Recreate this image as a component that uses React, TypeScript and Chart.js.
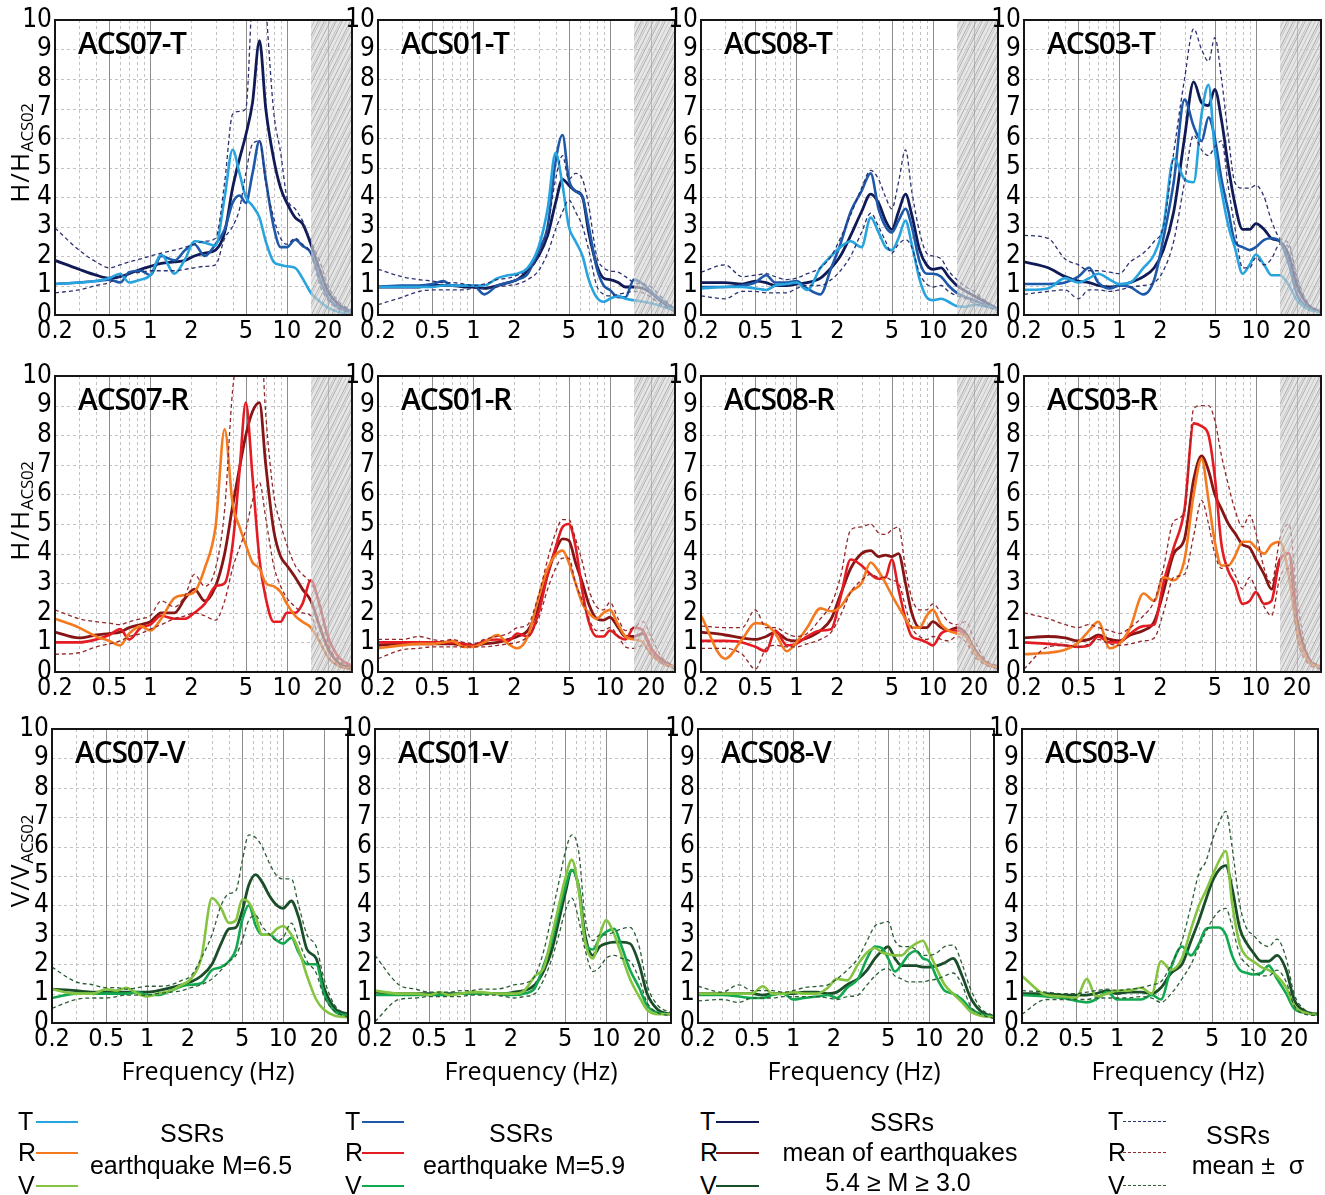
import React, { useEffect, useRef } from "react";
import { Chart, registerables } from "chart.js";

Chart.register(...registerables);

// ---------------- data ----------------
const F = [0.2, 0.3, 0.4, 0.5, 0.6, 0.7, 0.85, 1, 1.2, 1.5, 1.8, 2.1, 2.5, 3, 3.5, 4, 4.5, 5, 5.6, 6.3, 7, 8, 9, 10, 11.5, 13, 15, 17.5, 20, 24, 30];
const X_TICKS = [0.2, 0.5, 1, 2, 5, 10, 20];
const X_MAJOR_GRID = [0.5, 1, 5, 10, 20];
const X_MINOR_GRID = [0.3, 0.4, 0.6, 0.7, 0.8, 0.9, 2, 3, 4, 6, 7, 8, 9];
const Y_GRID = [1, 2, 3, 4, 5, 6, 7, 8, 9];
const HATCH_FROM = 15;

const ACS07_T_M65 = [1.05,1.1,1.15,1.25,1.4,1.1,1.2,1.35,2.05,1.4, 1.9,2.5,2.45,2.35,4.0,5.6,4.8,4.0,3.7,3.3, 2.5,1.8,1.7,1.65,1.6,1.25,0.75,0.45,0.25,0.1, 0.05];
const ACS07_T_M59 = [1.05,1.1,1.15,1.2,1.1,1.45,1.5,1.35,2.0,1.85, 2.2,2.4,2.0,2.4,2.9,3.8,4.05,3.8,4.8,5.9, 4.6,3.0,2.3,2.3,2.55,2.35,2.1,1.2,0.6,0.25, 0.1];
const ACS07_T_MEAN = [1.85,1.55,1.35,1.25,1.3,1.4,1.55,1.65,1.75,1.8, 1.85,2.0,2.1,2.2,2.8,4.3,5.3,6.1,7.2,9.3, 7.0,5.3,4.3,3.8,3.3,3.1,2.4,1.5,0.8,0.35, 0.1];
const ACS07_T_UP = [2.95,2.2,1.8,1.6,1.7,1.8,1.9,2.0,2.1,2.2, 2.3,2.4,2.5,2.6,4.5,6.8,6.9,7.0,11,13, 10.5,6.9,5.5,4.0,3.6,3.2,2.5,1.8,1.0,0.45, 0.15];
const ACS07_T_LO = [0.75,0.85,1.0,1.1,1.3,1.4,1.45,1.5,1.5,1.5, 1.55,1.6,1.65,1.7,2.6,3.0,3.6,4.8,5.8,5.9, 4.5,3.3,2.6,2.4,2.6,2.4,2.1,1.0,0.5,0.2, 0.08];

const ACS01_T_M65 = [0.95,0.95,0.95,0.95,1.0,1.0,1.0,1.0,1.0,1.25, 1.35,1.4,1.6,2.3,3.6,5.5,4.4,3.0,2.5,2.0, 1.2,0.6,0.45,0.55,0.65,0.55,0.5,0.45,0.4,0.3, 0.15];
const ACS01_T_M59 = [0.95,1.0,1.0,1.05,1.15,1.0,1.0,1.0,0.7,1.0, 1.1,1.2,1.4,2.2,3.0,5.2,6.1,4.6,4.2,4.0, 3.0,1.6,1.0,0.85,0.6,0.6,1.2,1.05,0.8,0.5, 0.2];
const ACS01_T_MEAN = [0.95,0.95,0.95,1.0,1.0,1.0,0.95,0.95,0.9,1.0, 1.1,1.2,1.5,2.0,2.7,3.8,4.6,4.4,4.2,4.0, 2.8,1.7,1.25,1.2,1.1,0.95,0.95,0.9,0.75,0.45, 0.15];
const ACS01_T_UP = [1.55,1.3,1.2,1.15,1.1,1.1,1.05,1.0,1.05,1.2, 1.25,1.35,1.5,2.0,3.0,4.6,5.4,4.6,4.8,4.6, 3.7,2.0,1.6,1.5,1.45,1.3,1.1,1.05,0.95,0.6, 0.2];
const ACS01_T_LO = [0.35,0.6,0.8,0.85,0.85,0.85,0.85,0.9,0.9,0.95, 1.0,1.05,1.2,1.5,2.1,2.9,3.5,3.9,3.5,3.0, 2.2,1.0,0.7,0.65,0.7,0.75,0.8,0.75,0.6,0.35, 0.1];

const ACS08_T_M65 = [0.9,0.95,0.95,0.9,0.85,1.0,1.05,1.1,0.85,1.6, 2.0,2.3,2.5,2.3,3.3,2.8,2.3,2.2,2.6,3.2, 2.4,1.2,0.6,0.5,0.55,0.45,0.3,0.28,0.35,0.3, 0.2];
const ACS08_T_M59 = [0.95,0.95,1.0,1.1,1.35,1.1,1.1,1.15,0.9,0.7, 1.6,2.4,3.5,4.2,4.8,3.6,3.0,2.8,3.2,3.6, 3.0,1.8,1.4,1.4,1.3,1.0,0.75,0.6,0.5,0.35, 0.2];
const ACS08_T_MEAN = [1.1,1.1,1.05,1.15,1.1,1.0,1.0,1.05,1.1,1.25, 1.6,2.0,2.7,3.5,4.1,3.8,3.2,2.9,3.5,4.1, 3.4,2.2,1.7,1.55,1.6,1.3,1.0,0.8,0.65,0.45, 0.2];
const ACS08_T_UP = [1.45,1.7,1.3,1.35,1.4,1.3,1.2,1.25,1.4,1.6, 2.0,2.6,3.4,4.3,4.9,4.6,4.0,3.6,4.5,5.6, 4.2,2.8,2.1,2.0,1.9,1.5,1.2,0.95,0.8,0.5, 0.2];
const ACS08_T_LO = [0.65,0.55,0.8,0.8,0.75,0.75,0.75,0.9,1.0,1.0, 1.2,1.5,2.0,2.8,3.45,3.0,2.5,2.1,2.4,2.55, 2.3,1.4,1.05,0.95,1.0,0.8,0.65,0.55,0.4,0.3, 0.15];

const ACS03_T_M65 = [0.85,0.9,1.25,1.1,1.25,1.4,1.2,1.05,1.1,1.6, 2.05,3.0,5.3,4.6,4.5,6.8,7.8,5.6,4.2,3.0, 2.3,1.4,1.7,2.05,1.7,1.35,1.35,1.0,0.5,0.2, 0.1];
const ACS03_T_M59 = [1.05,1.05,1.1,1.3,1.6,1.1,0.9,1.0,0.95,0.7, 1.2,2.6,4.5,7.3,6.4,5.9,6.7,6.0,4.6,3.5, 2.5,2.3,2.2,2.3,2.55,2.6,2.5,1.7,0.7,0.25, 0.1];
const ACS03_T_MEAN = [1.8,1.6,1.3,1.15,1.1,1.0,0.95,1.0,1.1,1.3, 1.6,2.2,3.5,6.0,7.9,7.2,7.1,7.65,6.6,5.0, 3.8,2.9,2.9,3.1,2.9,2.6,2.5,2.0,1.0,0.35, 0.1];
const ACS03_T_UP = [2.7,2.6,1.9,1.7,1.5,1.5,1.45,1.4,1.8,2.1, 2.5,3.0,5.5,8.0,9.7,9.0,8.6,9.4,8.0,6.0, 4.5,4.3,4.3,4.4,4.0,3.2,2.6,2.4,1.3,0.4, 0.1];
const ACS03_T_LO = [0.7,0.8,0.85,0.55,0.85,0.85,0.8,0.85,0.95,1.0, 1.1,1.5,2.5,4.5,6.1,5.6,5.4,5.7,5.9,4.3, 3.0,1.6,1.6,1.95,1.7,1.9,2.4,2.3,1.2,0.35, 0.1];

const ACS07_R_M65 = [1.8,1.5,1.2,1.05,0.9,1.3,1.55,1.4,1.8,2.5, 2.6,2.7,3.5,4.9,8.2,5.7,4.9,4.3,3.7,3.5, 3.0,2.9,2.7,2.3,1.9,1.7,1.5,1.0,0.5,0.2, 0.1];
const ACS07_R_M59 = [1.0,1.0,1.1,1.25,1.45,1.1,1.5,1.6,1.9,1.8, 1.8,2.0,2.3,2.9,3.0,4.3,6.8,9.1,6.6,3.8, 2.5,1.7,1.7,2.0,2.0,2.3,3.1,2.2,1.2,0.5, 0.2];
const ACS07_R_MEAN = [1.35,1.15,1.25,1.3,1.35,1.5,1.6,1.7,2.0,2.0, 2.5,2.8,2.4,2.9,4.0,5.6,6.9,8.0,8.8,9.1, 7.0,4.8,3.9,3.6,3.2,2.8,2.4,1.5,0.8,0.3, 0.15];
const ACS07_R_UP = [2.1,1.8,1.7,1.65,1.6,1.7,1.8,1.9,2.4,2.2, 2.6,3.3,2.9,3.5,5.5,9.5,11,12,12,12, 8.7,6.0,5.0,4.3,3.6,3.3,3.0,2.3,1.0,0.4, 0.15];
const ACS07_R_LO = [0.6,0.65,0.85,0.95,1.05,1.2,1.3,1.45,1.6,1.8, 1.9,2.0,1.9,1.75,2.4,3.5,4.2,4.8,5.8,6.4, 5.2,3.6,2.9,2.5,2.2,2.0,1.9,1.0,0.5,0.2, 0.1];

const ACS01_R_M65 = [0.8,0.9,0.95,0.95,1.0,1.05,0.85,0.85,1.0,1.25, 0.95,0.8,1.2,2.5,3.5,3.95,4.1,3.7,3.0,2.3, 2.0,1.8,2.0,2.1,1.6,1.2,1.1,1.0,0.6,0.3, 0.15];
const ACS01_R_M59 = [1.0,1.0,1.0,1.0,1.0,1.0,0.95,0.9,1.05,1.1, 1.05,1.3,1.2,2.0,3.3,4.2,4.9,5.0,4.25,2.7, 1.7,1.2,1.2,1.4,1.2,1.1,1.5,1.4,0.8,0.35, 0.15];
const ACS01_R_MEAN = [0.9,0.95,0.95,0.95,0.95,0.95,0.9,0.9,0.95,1.0, 1.1,1.2,1.4,2.2,3.3,4.1,4.5,4.45,3.7,3.0, 2.3,1.8,1.75,1.85,1.5,1.2,1.2,1.3,0.8,0.4, 0.15];
const ACS01_R_UP = [1.1,1.1,1.2,1.1,1.05,1.1,1.0,0.95,1.1,1.2, 1.3,1.5,1.6,2.6,3.8,4.7,5.15,5.15,4.5,3.7, 2.8,2.2,2.1,2.35,1.8,1.4,1.5,1.7,1.2,0.5, 0.2];
const ACS01_R_LO = [0.45,0.75,0.8,0.85,0.85,0.85,0.85,0.85,0.85,0.9, 0.95,1.0,1.2,1.8,2.8,3.5,3.85,3.85,3.0,2.4, 1.8,1.4,1.4,1.5,1.2,0.85,0.8,0.9,0.6,0.3, 0.1];

const ACS08_R_M65 = [1.9,0.45,1.1,1.65,1.6,1.3,0.7,1.0,1.5,2.15, 2.05,2.2,2.7,3.0,3.7,3.4,3.0,2.6,2.2,1.8, 1.5,1.5,1.9,2.1,1.6,1.4,1.3,1.2,0.7,0.3, 0.15];
const ACS08_R_M59 = [1.05,1.05,1.0,0.85,0.7,1.4,0.9,0.95,1.2,1.4, 1.45,2.5,3.8,3.6,3.3,3.15,3.2,3.8,2.8,1.8, 1.2,1.1,1.0,0.9,1.3,1.4,1.4,1.2,0.7,0.3, 0.15];
const ACS08_R_MEAN = [1.35,1.25,1.15,1.1,1.2,1.35,1.1,1.05,1.15,1.4, 1.8,2.6,3.5,4.0,4.1,3.9,3.95,3.9,4.0,3.0, 2.0,1.5,1.5,1.7,1.5,1.4,1.5,1.3,0.8,0.35, 0.15];
const ACS08_R_UP = [1.55,1.5,1.5,2.1,1.5,1.5,1.3,1.2,1.3,1.8, 2.3,3.2,4.8,4.9,5.0,4.7,4.65,4.8,4.9,3.5, 2.5,2.1,2.1,2.3,2.0,1.7,1.6,1.7,1.1,0.45, 0.2];
const ACS08_R_LO = [0.8,0.8,0.6,0.1,0.8,0.9,0.85,0.85,0.95,1.1, 1.35,1.9,2.7,3.1,3.3,3.2,3.2,3.1,3.0,2.2, 1.5,1.2,1.1,1.2,1.1,1.05,1.2,1.0,0.55,0.25, 0.1];

const ACS03_R_M65 = [0.6,0.65,0.75,1.0,1.4,1.7,0.8,0.95,1.5,2.65, 2.4,3.2,3.1,3.8,6.0,7.2,5.8,4.4,3.6,3.6, 3.9,4.4,4.4,4.2,4.0,4.3,4.4,3.2,1.4,0.4, 0.15];
const ACS03_R_M59 = [1.0,0.95,0.9,0.85,0.9,1.2,1.0,1.0,1.3,1.55, 1.6,3.0,4.2,5.5,8.4,8.3,8.0,6.6,4.3,3.4, 3.0,2.3,2.4,2.7,2.3,2.4,3.8,4.0,1.5,0.4, 0.15];
const ACS03_R_MEAN = [1.15,1.2,1.15,1.05,1.1,1.25,1.1,1.05,1.25,1.4, 1.7,2.7,4.0,4.5,6.5,7.3,6.8,6.0,5.5,5.0, 4.7,4.3,4.2,3.8,3.3,2.8,3.8,4.0,1.8,0.5, 0.15];
const ACS03_R_UP = [2.0,1.8,1.6,1.5,1.6,1.5,1.4,1.3,1.5,1.9, 2.4,3.5,5.1,5.4,8.9,9.0,9.0,8.5,7.3,6.3, 5.5,4.9,5.3,4.7,3.5,3.0,4.5,5.0,2.5,0.6, 0.2];
const ACS03_R_LO = [0.1,0.85,0.9,0.85,0.95,1.1,0.95,0.9,0.95,1.05, 1.15,2.0,3.2,3.3,4.6,5.8,5.0,4.0,3.5,3.6, 3.3,2.8,3.2,2.8,2.2,1.9,3.2,3.5,1.2,0.3, 0.1];

const ACS07_V_M65 = [1.15,1.0,1.0,1.15,1.1,1.2,1.0,0.9,1.0,1.1, 1.3,1.5,2.2,4.25,3.9,3.4,3.5,4.2,4.1,3.6, 3.0,3.0,3.2,3.3,3.0,2.5,1.6,0.8,0.45,0.25, 0.2];
const ACS07_V_M59 = [0.85,1.0,1.0,1.0,1.0,1.0,1.05,0.95,0.95,1.1, 1.25,1.3,1.35,1.8,1.9,2.1,2.5,3.5,4.0,3.3, 3.0,3.0,2.8,2.7,2.9,2.4,2.0,2.0,1.0,0.4, 0.25];
const ACS07_V_MEAN = [1.15,1.1,1.05,1.05,1.05,1.05,1.05,1.05,1.1,1.2, 1.3,1.4,1.6,2.0,2.7,3.2,3.25,3.8,4.7,5.05, 4.8,4.3,4.0,3.9,4.15,3.6,2.5,2.2,1.2,0.5, 0.3];
const ACS07_V_UP = [1.9,1.4,1.3,1.2,1.2,1.15,1.2,1.25,1.25,1.3, 1.45,1.6,2.2,3.0,4.0,4.4,4.5,5.5,6.4,6.3, 6.0,5.4,5.0,4.9,4.9,4.0,3.0,2.6,1.5,0.6, 0.3];
const ACS07_V_LO = [0.5,0.8,0.85,0.85,0.9,0.95,0.95,0.95,1.0,1.05, 1.1,1.2,1.3,1.5,1.8,2.1,2.3,2.8,3.5,3.65, 3.3,3.0,2.8,2.9,3.4,2.8,2.1,1.7,0.9,0.4, 0.2];

const ACS01_V_M65 = [1.1,1.0,1.0,0.95,1.05,0.95,1.0,1.05,1.05,1.0, 1.0,1.0,1.1,1.6,1.9,3.0,4.0,4.9,5.55,4.5, 2.8,2.2,3.0,3.5,3.0,2.3,1.5,0.9,0.45,0.3, 0.3];
const ACS01_V_M59 = [0.95,0.95,0.95,0.95,0.95,0.95,1.0,1.0,1.0,1.0, 0.95,0.95,1.0,1.2,2.0,2.8,3.8,4.6,5.2,4.6, 2.8,2.5,2.9,3.1,3.2,2.6,1.8,1.2,0.6,0.35, 0.3];
const ACS01_V_MEAN = [1.05,1.0,1.0,1.0,1.0,1.0,1.0,1.0,1.0,1.0, 1.0,1.05,1.1,1.3,1.8,2.5,3.5,4.4,5.2,4.6, 3.0,2.3,2.6,2.7,2.75,2.75,2.7,2.0,1.0,0.45, 0.3];
const ACS01_V_UP = [2.3,1.3,1.15,1.05,1.05,1.05,1.1,1.1,1.15,1.15, 1.2,1.3,1.35,1.6,2.5,3.7,4.8,5.8,6.4,5.8, 3.6,2.8,3.0,3.0,3.1,3.2,3.25,2.6,1.3,0.6, 0.35];
const ACS01_V_LO = [0.05,0.8,0.85,0.9,0.9,0.9,0.9,0.95,0.95,0.95, 0.9,0.85,0.9,1.0,1.5,2.2,3.0,3.8,4.25,3.5, 2.5,1.75,1.9,2.2,2.3,2.2,2.1,1.5,0.7,0.35, 0.25];

const ACS08_V_M65 = [1.0,1.0,1.0,1.0,1.25,1.0,1.0,1.05,1.0,1.0, 1.2,1.5,1.45,2.0,2.4,2.55,2.4,2.35,2.3,2.3, 2.5,2.7,2.8,2.4,1.8,1.3,1.0,0.7,0.4,0.25, 0.2];
const ACS08_V_M59 = [0.95,0.95,0.9,0.85,0.85,0.95,1.0,0.8,0.85,0.9, 0.95,0.85,1.2,1.5,2.2,2.6,2.55,2.2,1.75,2.0, 2.3,2.45,2.2,2.1,1.5,1.1,1.0,0.8,0.5,0.3, 0.2];
const ACS08_V_MEAN = [1.0,1.0,1.0,1.0,0.95,1.0,1.0,1.0,1.05,1.05, 1.0,1.05,1.3,1.5,1.8,2.2,2.45,2.6,2.2,1.95, 1.95,1.95,1.9,1.9,1.95,2.05,2.2,1.6,0.9,0.4, 0.2];
const ACS08_V_UP = [1.25,1.05,1.3,1.1,1.1,1.1,1.05,1.1,1.2,1.25, 1.3,1.5,1.8,2.2,2.8,3.3,3.4,3.45,2.8,2.6, 2.6,2.5,2.3,2.3,2.4,2.6,2.65,2.0,1.2,0.5, 0.25];
const ACS08_V_LO = [0.75,0.8,0.7,0.85,0.85,0.85,0.9,0.9,0.9,0.9, 0.85,0.8,0.9,0.95,1.3,1.6,1.8,1.85,1.6,1.5, 1.4,1.4,1.4,1.45,1.5,1.6,1.7,1.3,0.6,0.3, 0.15];

const ACS03_V_M65 = [1.6,0.95,0.9,0.85,1.5,0.9,1.0,1.1,1.1,1.2, 1.0,2.1,1.8,2.2,3.2,4.0,4.5,5.0,5.5,5.85, 4.1,2.66,2.25,2.1,1.9,1.8,1.6,1.2,0.6,0.35, 0.3];
const ACS03_V_M59 = [0.95,0.9,0.85,0.75,0.7,0.8,1.05,0.8,0.8,0.8, 0.95,0.8,1.9,2.6,2.3,2.7,3.2,3.25,3.25,3.0, 2.3,1.8,1.7,1.65,1.7,1.95,1.5,1.0,0.5,0.35, 0.3];
const ACS03_V_MEAN = [1.0,1.0,0.95,0.95,0.95,1.0,1.1,1.0,1.05,1.05, 1.0,1.2,1.7,2.0,2.8,3.5,4.2,4.8,5.2,5.35, 4.6,3.2,2.7,2.4,2.1,2.1,2.3,1.8,0.8,0.4, 0.3];
const ACS03_V_UP = [1.1,1.05,1.0,1.0,1.05,1.1,1.15,1.1,1.15,1.2, 1.3,1.4,2.0,2.8,4.0,5.1,5.5,6.2,6.8,7.2, 6.0,4.0,3.2,3.0,2.7,2.6,2.85,2.2,1.0,0.45, 0.3];
const ACS03_V_LO = [0.3,0.8,0.8,0.8,0.8,0.85,0.85,0.85,0.85,0.9, 0.85,0.7,1.0,1.5,2.0,2.6,3.1,3.5,3.8,3.9, 3.3,2.3,2.0,1.8,1.6,1.6,1.8,1.4,0.6,0.3, 0.25];

type Comp = "T" | "R" | "V";
interface PanelDef { title: string; comp: Comp; m65: number[]; m59: number[]; mean: number[]; up: number[]; lo: number[]; }

const PANELS: PanelDef[] = [
  { title: "ACS07-T", comp: "T", m65: ACS07_T_M65, m59: ACS07_T_M59, mean: ACS07_T_MEAN, up: ACS07_T_UP, lo: ACS07_T_LO },
  { title: "ACS01-T", comp: "T", m65: ACS01_T_M65, m59: ACS01_T_M59, mean: ACS01_T_MEAN, up: ACS01_T_UP, lo: ACS01_T_LO },
  { title: "ACS08-T", comp: "T", m65: ACS08_T_M65, m59: ACS08_T_M59, mean: ACS08_T_MEAN, up: ACS08_T_UP, lo: ACS08_T_LO },
  { title: "ACS03-T", comp: "T", m65: ACS03_T_M65, m59: ACS03_T_M59, mean: ACS03_T_MEAN, up: ACS03_T_UP, lo: ACS03_T_LO },
  { title: "ACS07-R", comp: "R", m65: ACS07_R_M65, m59: ACS07_R_M59, mean: ACS07_R_MEAN, up: ACS07_R_UP, lo: ACS07_R_LO },
  { title: "ACS01-R", comp: "R", m65: ACS01_R_M65, m59: ACS01_R_M59, mean: ACS01_R_MEAN, up: ACS01_R_UP, lo: ACS01_R_LO },
  { title: "ACS08-R", comp: "R", m65: ACS08_R_M65, m59: ACS08_R_M59, mean: ACS08_R_MEAN, up: ACS08_R_UP, lo: ACS08_R_LO },
  { title: "ACS03-R", comp: "R", m65: ACS03_R_M65, m59: ACS03_R_M59, mean: ACS03_R_MEAN, up: ACS03_R_UP, lo: ACS03_R_LO },
  { title: "ACS07-V", comp: "V", m65: ACS07_V_M65, m59: ACS07_V_M59, mean: ACS07_V_MEAN, up: ACS07_V_UP, lo: ACS07_V_LO },
  { title: "ACS01-V", comp: "V", m65: ACS01_V_M65, m59: ACS01_V_M59, mean: ACS01_V_MEAN, up: ACS01_V_UP, lo: ACS01_V_LO },
  { title: "ACS08-V", comp: "V", m65: ACS08_V_M65, m59: ACS08_V_M59, mean: ACS08_V_MEAN, up: ACS08_V_UP, lo: ACS08_V_LO },
  { title: "ACS03-V", comp: "V", m65: ACS03_V_M65, m59: ACS03_V_M59, mean: ACS03_V_MEAN, up: ACS03_V_UP, lo: ACS03_V_LO },
];

// colours: [M=6.5, M=5.9, mean, mean ± sigma]
const PALETTE: Record<Comp, string[]> = {
  T: ["#27a3de", "#1e58a8", "#101a56", "#2c3270"],
  R: ["#f47a1f", "#e41b22", "#861616", "#93282a"],
  V: ["#84c441", "#12a84f", "#1a4e29", "#2c5e36"],
};

// ---------------- layout ----------------
const ROW_TOP = [20, 376, 729];
const ROW_H = [295, 296, 294];
const COL_LEFT = [[55, 378, 701, 1024], [55, 378, 701, 1024], [52, 375, 698, 1022]];
const PLOT_W = [297, 297, 296];
const AX_W = 50, PAD_T = 16, PAD_R = 10, AX_H = 36;
const TICK_FONT = "'Liberation Sans Narrow', 'DejaVu Sans Condensed', 'Open Sans', sans-serif";
const TEXT_FONT = "'Open Sans', 'Noto Sans', sans-serif";
const LEGEND_FONT = "'Liberation Sans', Arial, sans-serif";

const gridPlugin = {
  id: "customGrid",
  beforeDatasetsDraw(chart: any) {
    const { ctx, chartArea: a, scales } = chart;
    const x = scales.x, y = scales.y;
    ctx.save();
    ctx.lineWidth = 1;
    ctx.strokeStyle = "#c2c2c2";
    ctx.setLineDash([3, 3]);
    for (const v of X_MINOR_GRID) {
      const px = Math.round(x.getPixelForValue(v)) + 0.5;
      ctx.beginPath(); ctx.moveTo(px, a.top); ctx.lineTo(px, a.bottom); ctx.stroke();
    }
    for (const v of Y_GRID) {
      const py = Math.round(y.getPixelForValue(v)) + 0.5;
      ctx.beginPath(); ctx.moveTo(a.left, py); ctx.lineTo(a.right, py); ctx.stroke();
    }
    ctx.setLineDash([]);
    ctx.strokeStyle = "#8c8c8c";
    for (const v of X_MAJOR_GRID) {
      const px = Math.round(x.getPixelForValue(v)) + 0.5;
      ctx.beginPath(); ctx.moveTo(px, a.top); ctx.lineTo(px, a.bottom); ctx.stroke();
    }
    ctx.restore();
  },
};

const makeHatch = (on: boolean) => ({
  id: "hatch",
  afterDatasetsDraw(chart: any) {
    if (!on) return;
    const { ctx, chartArea: a, scales } = chart;
    const x0 = scales.x.getPixelForValue(HATCH_FROM);
    const h = a.bottom - a.top;
    ctx.save();
    ctx.beginPath(); ctx.rect(x0, a.top, a.right - x0, h); ctx.clip();
    ctx.fillStyle = "rgba(214,214,214,0.62)";
    ctx.fillRect(x0, a.top, a.right - x0, h);
    ctx.lineWidth = 1;
    const slope = 0.5;
    let k = 0;
    for (let sx = x0 - h * slope; sx < a.right + 2; sx += 3.2) {
      const jitter = ((k * 7) % 5) * 0.4;
      ctx.strokeStyle = k % 2 === 0 ? "rgba(150,150,150,0.7)" : "rgba(175,175,175,0.6)";
      ctx.beginPath();
      ctx.moveTo(sx + jitter, a.bottom);
      ctx.lineTo(sx + jitter + h * slope, a.top);
      ctx.stroke();
      k++;
    }
    ctx.restore();
  },
});

const framePlugin = {
  id: "frame",
  afterDraw(chart: any) {
    const { ctx, chartArea: a } = chart;
    ctx.save();
    ctx.strokeStyle = "#151515";
    ctx.lineWidth = 2;
    ctx.strokeRect(a.left, a.top, a.right - a.left, a.bottom - a.top);
    ctx.restore();
  },
};

function Panel({ panel, row, col }: { panel: PanelDef; row: number; col: number }) {
  const ref = useRef<HTMLCanvasElement>(null);
  const L = COL_LEFT[row][col];
  const W = PLOT_W[row];
  const T = ROW_TOP[row];
  const H = ROW_H[row];
  const cw = AX_W + W + PAD_R;
  const ch = PAD_T + H + AX_H;

  useEffect(() => {
    if (!ref.current) return;
    const pal = PALETTE[panel.comp];
    const ds = (vals: number[], color: string, width: number, dash: number[]) => ({
      data: F.map((f, i) => ({ x: f, y: vals[i] })),
      borderColor: color,
      borderWidth: width,
      borderDash: dash,
      pointRadius: 0,
      fill: false,
      cubicInterpolationMode: "monotone" as const,
      borderJoinStyle: "round" as const,
    });
    const chart = new Chart(ref.current, {
      type: "line",
      data: {
        datasets: [
          ds(panel.up, pal[3], 1.3, [4, 3]),
          ds(panel.lo, pal[3], 1.3, [4, 3]),
          ds(panel.m65, pal[0], 2.6, []),
          ds(panel.m59, pal[1], 2.6, []),
          ds(panel.mean, pal[2], 2.8, []),
        ],
      },
      options: {
        animation: false,
        responsive: false,
        devicePixelRatio: 1,
        events: [],
        layout: { padding: { left: 0, right: PAD_R, top: PAD_T, bottom: 0 } },
        plugins: { legend: { display: false }, tooltip: { enabled: false } },
        scales: {
          x: {
            type: "logarithmic",
            min: 0.2,
            max: 30,
            afterBuildTicks: (s: any) => { s.ticks = X_TICKS.map((v) => ({ value: v })); },
            afterFit: (s: any) => { s.height = AX_H; },
            ticks: {
              autoSkip: false, maxRotation: 0, minRotation: 0, padding: 4, color: "#000",
              font: { family: TICK_FONT, size: 25, lineHeight: 1 },
              callback: (v: any) => String(v),
            },
            grid: { display: false, drawTicks: false },
            border: { display: false },
          },
          y: {
            min: 0,
            max: 10,
            afterFit: (s: any) => { s.width = AX_W; },
            ticks: {
              stepSize: 1, autoSkip: false, padding: 3, color: "#000",
              font: { family: TICK_FONT, size: 26, lineHeight: 1 },
            },
            grid: { display: false, drawTicks: false },
            border: { display: false },
          },
        },
      } as any,
      plugins: [gridPlugin, makeHatch(row < 2), framePlugin],
    });
    return () => chart.destroy();
  }, []);

  return (
    <>
      <canvas
        ref={ref}
        width={cw}
        height={ch}
        style={{ position: "absolute", left: L - AX_W, top: T - PAD_T, width: cw, height: ch }}
      />
      <div
        style={{
          position: "absolute", left: L + 23, top: T + 8, font: `600 30px ${TEXT_FONT}`,
          lineHeight: "30px", letterSpacing: "-1.2px", color: "#000", whiteSpace: "nowrap",
        }}
      >
        {panel.title}
      </div>
      {row === 2 && (
        <div
          style={{
            position: "absolute", left: L + W / 2 + 8, top: 1058, transform: "translateX(-50%)",
            font: `25px ${TEXT_FONT}`, lineHeight: "25px", color: "#000", whiteSpace: "nowrap",
          }}
        >
          Frequency (Hz)
        </div>
      )}
    </>
  );
}

const Y_TITLES = [
  { main: "H/H", cy: 153 },
  { main: "H/H", cy: 511 },
  { main: "V/V", cy: 861 },
];

function YTitle({ main, cy }: { main: string; cy: number }) {
  return (
    <div
      style={{
        position: "absolute", left: 21, top: cy, transform: "translate(-50%, -50%) rotate(-90deg)",
        whiteSpace: "nowrap", font: `26px ${TEXT_FONT}`, lineHeight: "26px", color: "#000",
      }}
    >
      <span style={{ letterSpacing: "1px" }}>{main}</span>
      <span style={{ fontSize: 17, position: "relative", top: 4, letterSpacing: "-0.3px" }}>ACS02</span>
    </div>
  );
}

const LEGEND_GROUPS = [
  { letterX: 18, lineX: 36, lineW: 42, colors: ["#27a3de", "#f47a1f", "#84c441"], dashed: false,
    texts: [{ t: "SSRs", x: 192, y: 1133 }, { t: "earthquake M=6.5", x: 191, y: 1165 }] },
  { letterX: 345, lineX: 362, lineW: 42, colors: ["#1e58a8", "#e41b22", "#12a84f"], dashed: false,
    texts: [{ t: "SSRs", x: 521, y: 1133 }, { t: "earthquake M=5.9", x: 524, y: 1165 }] },
  { letterX: 700, lineX: 716, lineW: 43, colors: ["#101a56", "#861616", "#1a4e29"], dashed: false,
    texts: [{ t: "SSRs", x: 902, y: 1122 }, { t: "mean of earthquakes", x: 900, y: 1152 }, { t: "5.4 ≥ M ≥ 3.0", x: 898, y: 1182 }] },
  { letterX: 1108, lineX: 1123, lineW: 43, colors: ["#2c3270", "#93282a", "#2c5e36"], dashed: true,
    texts: [{ t: "SSRs", x: 1238, y: 1135 }, { t: "mean ±  σ", x: 1248, y: 1165 }] },
];
const LEGEND_LETTERS = ["T", "R", "V"];
const LEGEND_ROWS_Y = [1122, 1153, 1186];

function Legend() {
  return (
    <>
      {LEGEND_GROUPS.map((g, gi) => (
        <React.Fragment key={gi}>
          {LEGEND_LETTERS.map((l, li) => (
            <React.Fragment key={l}>
              <div
                style={{
                  position: "absolute", left: g.letterX, top: LEGEND_ROWS_Y[li] - 13,
                  font: `25px ${LEGEND_FONT}`, lineHeight: "25px", color: "#000",
                }}
              >
                {l}
              </div>
              <div
                style={{
                  position: "absolute", left: g.lineX, top: LEGEND_ROWS_Y[li] - 1, width: g.lineW, height: 0,
                  borderTop: g.dashed ? `1.5px dashed ${g.colors[li]}` : `2px solid ${g.colors[li]}`,
                }}
              />
            </React.Fragment>
          ))}
          {g.texts.map((t, ti) => (
            <div
              key={ti}
              style={{
                position: "absolute", left: t.x, top: t.y, transform: "translate(-50%, -50%)",
                font: `25px ${LEGEND_FONT}`, lineHeight: "25px", color: "#000", whiteSpace: "pre",
              }}
            >
              {t.t}
            </div>
          ))}
        </React.Fragment>
      ))}
    </>
  );
}

export default function App() {
  return (
    <div style={{ position: "absolute", left: 0, top: 0, width: 1325, height: 1195, background: "#fff", overflow: "hidden" }}>
      {PANELS.map((p, i) => (
        <Panel key={p.title} panel={p} row={Math.floor(i / 4)} col={i % 4} />
      ))}
      {Y_TITLES.map((t, i) => (
        <YTitle key={i} main={t.main} cy={t.cy} />
      ))}
      <Legend />
    </div>
  );
}
